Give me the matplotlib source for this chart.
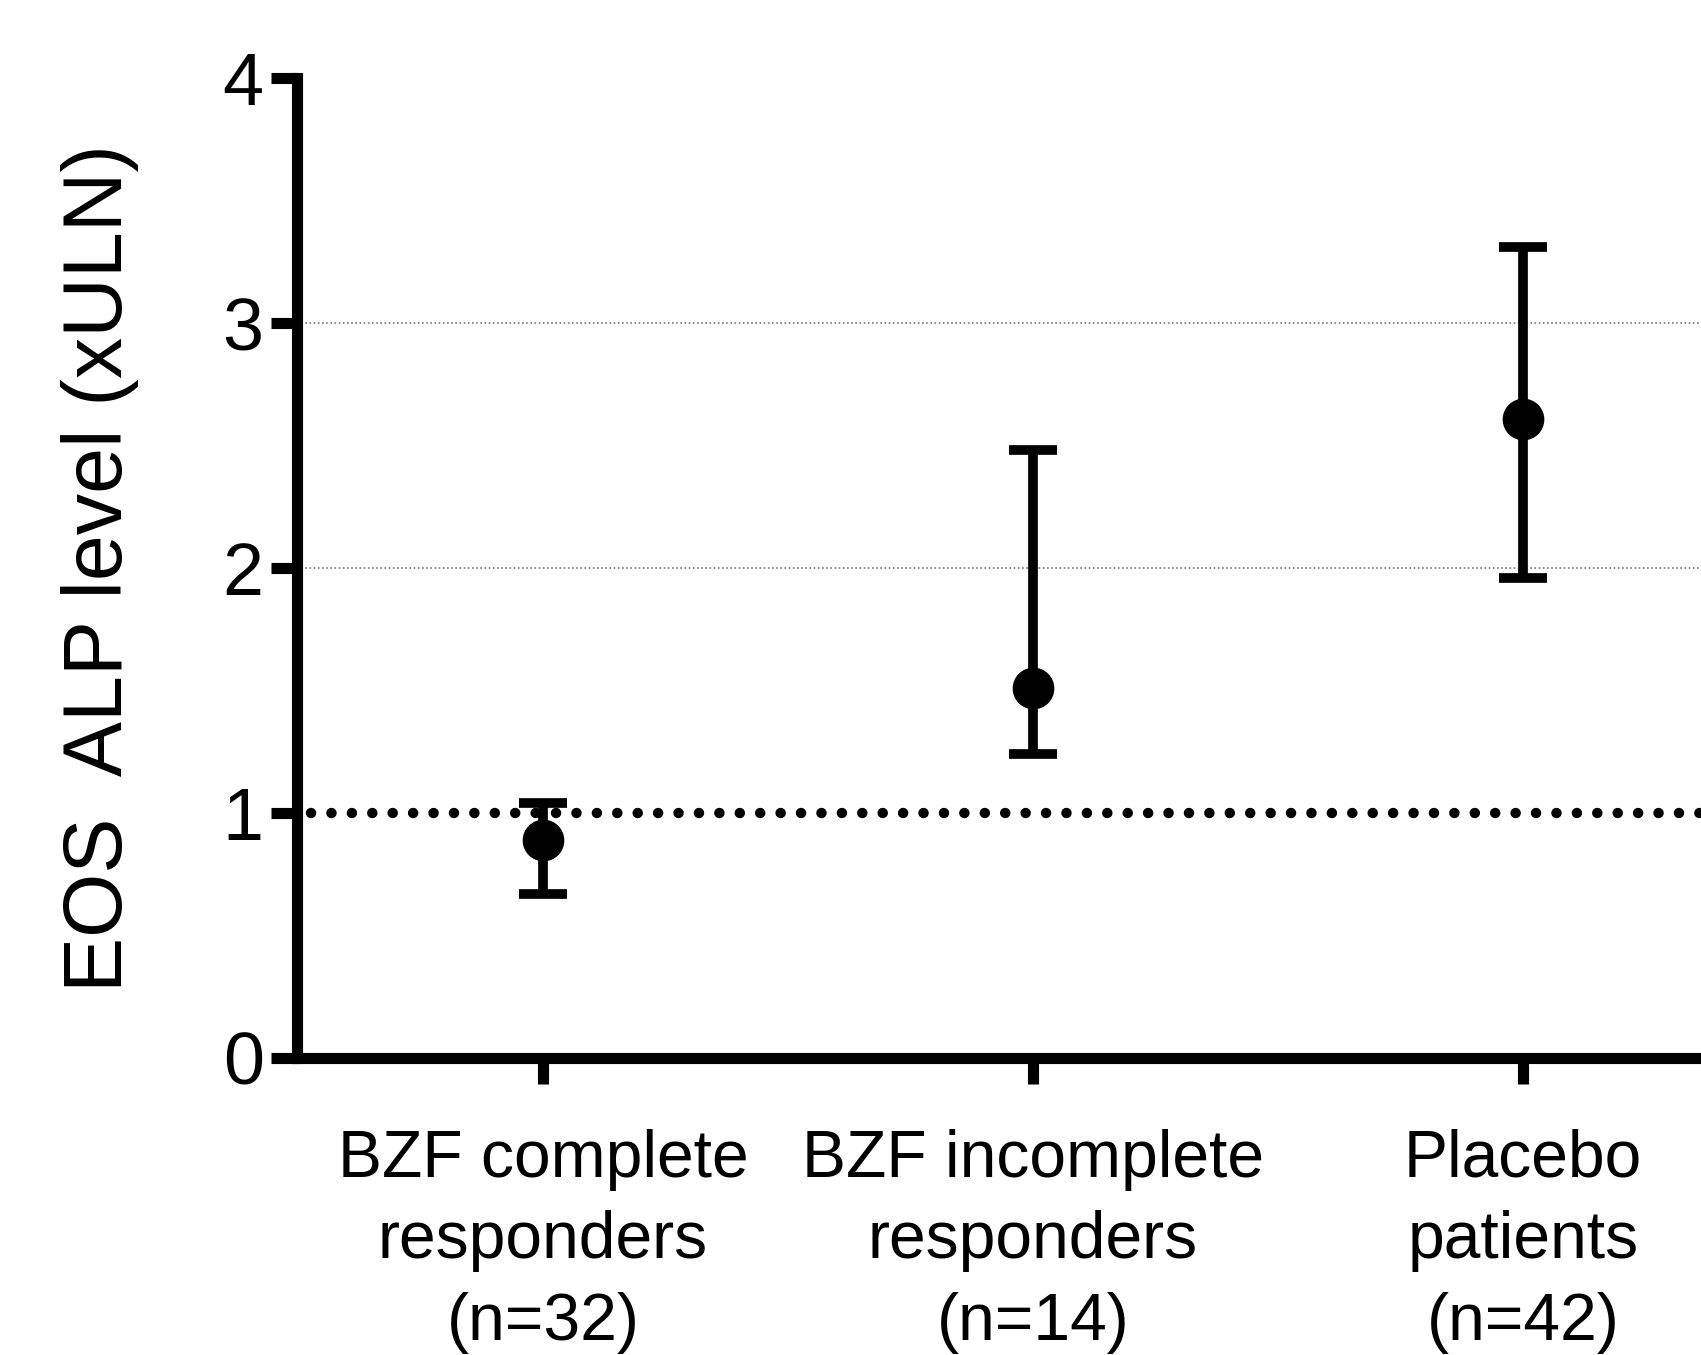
import matplotlib
matplotlib.use('Agg')
import matplotlib.pyplot as plt

groups = ['BZF complete\nresponders\n(n=32)', 'BZF incomplete\nresponders\n(n=14)', 'Placebo\npatients\n(n=42)']
means = [0.89, 1.51, 2.61]
lower = [0.67, 1.24, 1.96]
upper = [1.04, 2.48, 3.31]

plt.rcParams['font.family'] = ['Liberation Sans', 'DejaVu Sans']

fig = plt.figure(figsize=(17.01, 13.55), dpi=100)
ax = fig.add_axes([0.1746, 0.2192, 0.8254, 0.7232])

x = list(range(len(groups)))
err = [[m - l for m, l in zip(means, lower)], [u - m for m, u in zip(means, upper)]]

# grid lines
for g in [2, 3]:
    ax.axhline(g, color='#777777', lw=1.2, ls=(0, (1, 1.5)), zorder=1)
ax.axhline(1, xmin=0.01, color='black', lw=7.5, ls=(0, (0.01, 1.95)),
           dash_capstyle='round', zorder=1)

ax.errorbar(x, means, yerr=err, fmt='o', color='black', ms=29, elinewidth=7,
            capsize=17, capthick=7, zorder=3)

ax.set_xlim(-0.502, 2.363)
ax.set_ylim(0, 4)
ax.set_yticks([0, 1, 2, 3, 4])
ax.set_xticks(x)
ax.set_xticklabels(groups, fontsize=47.5, linespacing=1.41)
ax.set_ylabel('EOS  ALP level (xULN)', fontsize=59.5, labelpad=60)

for s in ['top', 'right']:
    ax.spines[s].set_visible(False)
for s in ['left', 'bottom']:
    ax.spines[s].set_linewidth(8)
ax.tick_params(axis='y', length=19, width=8, labelsize=53, pad=5)
ax.tick_params(axis='x', length=19, width=8, pad=32)

fig.savefig('out.png', dpi=100)
